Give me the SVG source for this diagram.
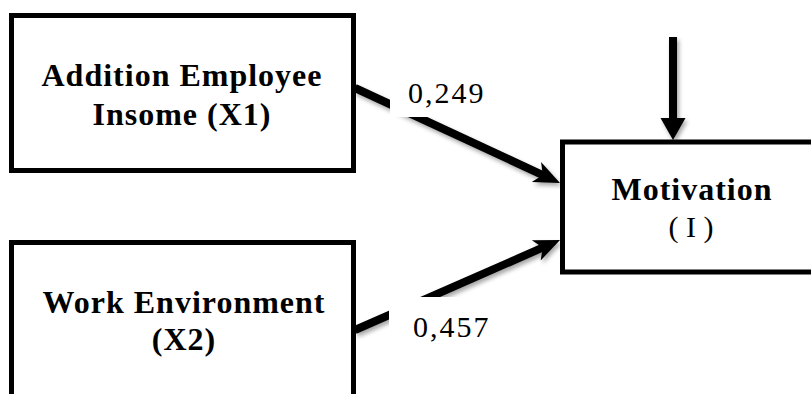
<svg xmlns="http://www.w3.org/2000/svg" width="811" height="394" viewBox="0 0 811 394">
  <style>
    .box { fill: #ffffff; stroke: #000000; stroke-width: 5; }
    .title { font-family: "Liberation Serif", "DejaVu Serif", serif; font-weight: bold; font-size: 32px; letter-spacing: 1px; fill: #000000; text-anchor: middle; }
    .sub { font-family: "Liberation Serif", "DejaVu Serif", serif; font-size: 30px; fill: #000000; text-anchor: middle; }
    .label { font-family: "Liberation Serif", "DejaVu Serif", serif; font-size: 30px; letter-spacing: 2px; fill: #000000; }
    .conn { stroke: #000000; stroke-width: 8; fill: none; }
    .lblbg { fill: #ffffff; }
  </style>
  <defs>
    <marker id="stealth" markerUnits="userSpaceOnUse" markerWidth="30" markerHeight="26" viewBox="0 -13 30 26" refX="10" refY="0" orient="auto">
      <path d="M0,-11 L26,0 L0,11 L7,0 Z" fill="#000000"/>
    </marker>
    <marker id="tri" markerUnits="userSpaceOnUse" markerWidth="26" markerHeight="28" viewBox="0 -14 26 28" refX="2" refY="0" orient="auto">
      <path d="M0,-12.5 L22,0 L0,12.5 Z" fill="#000000"/>
    </marker>
    <filter id="shadow" x="-10%" y="-10%" width="130%" height="130%">
      <feDropShadow dx="2" dy="3" stdDeviation="2" flood-color="#000000" flood-opacity="0.35"/>
    </filter>
  </defs>

  <g id="connectors" filter="url(#shadow)">
    <line class="conn" x1="355" y1="88" x2="545.5" y2="176.3" marker-end="url(#stealth)"/>
    <line class="conn" x1="355" y1="330" x2="545.4" y2="246.4" marker-end="url(#stealth)"/>
    <line class="conn" x1="673" y1="37" x2="673" y2="120" marker-end="url(#tri)"/>
  </g>

  <g id="label-249">
    <rect class="lblbg" x="390" y="68" width="100" height="49"/>
    <text class="label" x="408" y="103">0,249</text>
  </g>
  <g id="label-457">
    <rect class="lblbg" x="389" y="297" width="100" height="60"/>
    <text class="label" x="413" y="337">0,457</text>
  </g>

  <g id="node-x1">
    <rect class="box" x="11.5" y="15.5" width="342" height="155"/>
    <text class="title" x="182" y="86">Addition Employee</text>
    <text class="title" x="182" y="125">Insome (X1)</text>
  </g>

  <g id="node-x2">
    <rect class="box" x="11.5" y="242.5" width="342" height="200"/>
    <text class="title" x="184" y="313">Work Environment</text>
    <text class="title" x="184" y="350">(X2)</text>
  </g>

  <g id="node-motivation">
    <rect class="box" x="562.5" y="142" width="270" height="130"/>
    <text class="title" x="692" y="200">Motivation</text>
    <text class="sub" x="691" y="237">( I )</text>
  </g>
</svg>
